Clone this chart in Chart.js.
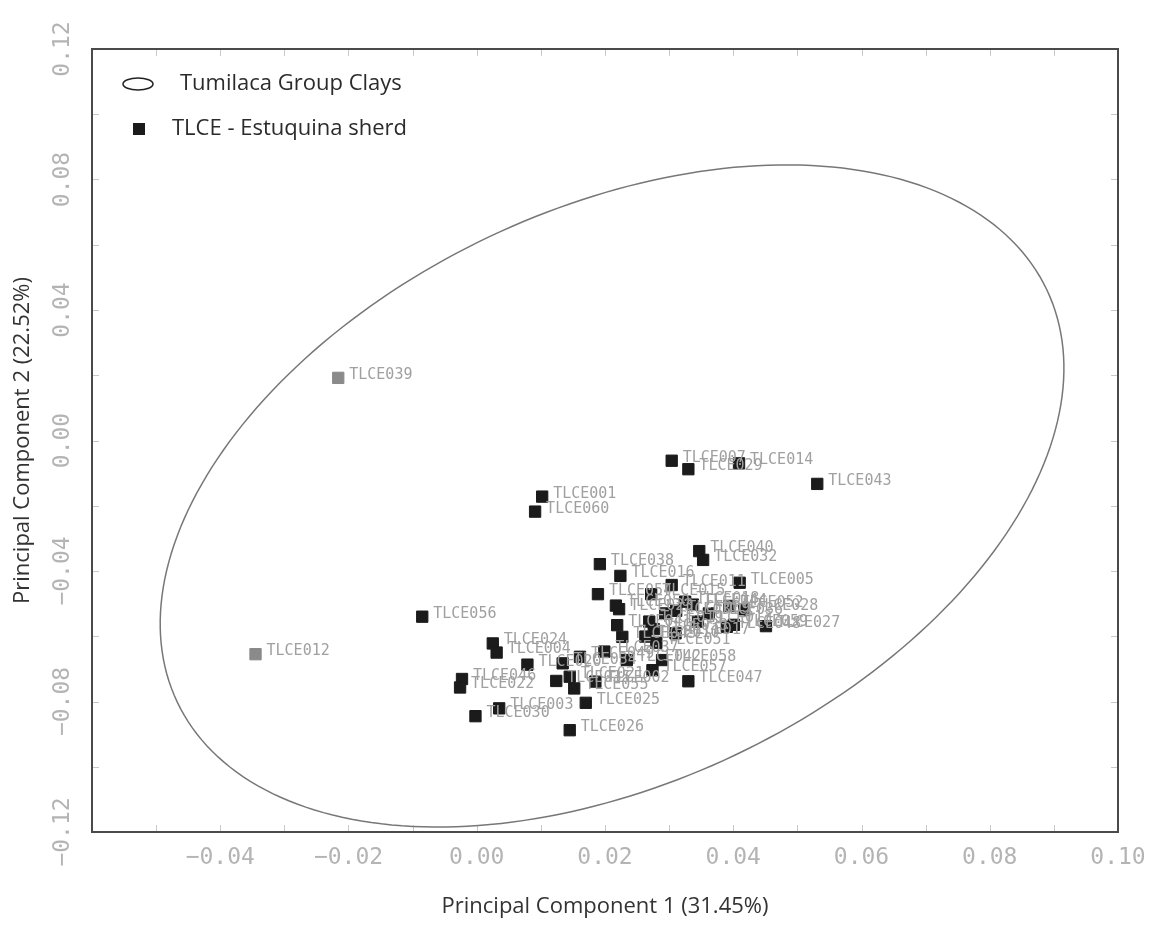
<!DOCTYPE html>
<html>
<head>
<meta charset="utf-8">
<title>PCA - Tumilaca clays vs Estuquina sherds</title>
<script src="https://cdn.jsdelivr.net/npm/chart.js@4.4.1/dist/chart.umd.min.js"></script>
<style>
    html, body { margin: 0; padding: 0; background: #fff; }
    #pca { display: block; }
</style>
</head>
<body>
<canvas id="pca" width="1150" height="930"></canvas>
<script>
/* DATA */
const sherdIds = [
    "TLCE007", "TLCE029", "TLCE014", "TLCE043", "TLCE001", "TLCE060", "TLCE040", "TLCE032",
    "TLCE038", "TLCE016", "TLCE011", "TLCE005", "TLCE054", "TLCE015", "TLCE050", "TLCE018",
    "TLCE044", "TLCE052", "TLCE028", "TLCE031", "TLCE009", "TLCE036", "TLCE056", "TLCE013",
    "TLCE048", "TLCE059", "TLCE027", "TLCE041", "TLCE019", "TLCE033", "TLCE045", "TLCE010",
    "TLCE051", "TLCE017", "TLCE024", "TLCE004", "TLCE049", "TLCE037", "TLCE042", "TLCE058",
    "TLCE020", "TLCE034", "TLCE057", "TLCE047", "TLCE046", "TLCE022", "TLCE035", "TLCE021",
    "TLCE055", "TLCE002", "TLCE025", "TLCE003", "TLCE030", "TLCE026", "TLCE023"
];
const sherdPC1 = [
    0.0304, 0.0330, 0.0409, 0.0531, 0.0102, 0.0091, 0.0347, 0.0353,
    0.0192, 0.0224, 0.0304, 0.0410, 0.0189, 0.0272, 0.0217, 0.0325,
    0.0337, 0.0394, 0.0417, 0.0294, 0.0311, 0.0362, -0.0085, 0.0345,
    0.0390, 0.0401, 0.0451, 0.0219, 0.0269, 0.0276, 0.0227, 0.0263,
    0.0280, 0.0310, 0.0025, 0.0031, 0.0161, 0.0199, 0.0234, 0.0289,
    0.0079, 0.0134, 0.0274, 0.0330, -0.0023, -0.0026, 0.0124, 0.0145,
    0.0152, 0.0185, 0.0170, 0.0035, -0.0002, 0.0145, 0.0222
];
const sherdPC2 = [
    -0.0062, -0.0088, -0.0070, -0.0133, -0.0172, -0.0218, -0.0339, -0.0366,
    -0.0379, -0.0415, -0.0443, -0.0436, -0.0471, -0.0471, -0.0506, -0.0494,
    -0.0503, -0.0507, -0.0518, -0.0530, -0.0522, -0.0530, -0.0540, -0.0555,
    -0.0571, -0.0565, -0.0569, -0.0566, -0.0555, -0.0578, -0.0602, -0.0601,
    -0.0620, -0.0591, -0.0622, -0.0650, -0.0663, -0.0647, -0.0673, -0.0673,
    -0.0687, -0.0683, -0.0704, -0.0738, -0.0731, -0.0757, -0.0737, -0.0724,
    -0.0760, -0.0739, -0.0804, -0.0821, -0.0845, -0.0888, -0.0517
];

// the two samples printed in grey
const greyIds = ["TLCE039", "TLCE012"];
const greyPC1 = [-0.0216, -0.0345];
const greyPC2 = [0.0192, -0.0655];

// Tumilaca Group clays ellipse: centre and two conjugate semi-axes (PC1, PC2)
const ellipseCenter = [0.0211, -0.0170];
const ellipseAxisA = [0.0678, 0.0632];
const ellipseAxisB = [0.0192, -0.0794];

const xTicks = [-0.06, 0.10, 0.02];   // min, max, step
const yTicks = [-0.12, 0.12, 0.04];

const xTitle = "Principal Component 1 (31.45%)";
const yTitle = "Principal Component 2 (22.52%)";
const legendItems = ["Tumilaca Group Clays", "TLCE - Estuquina sherd"];

/* HELPERS */
function toPoints(xs, ys) {
    return xs.map((x, i) => ({ x: x, y: ys[i] }));
}

function fmt(v) {
    const s = Math.abs(v) < 1e-9 ? "0.00" : v.toFixed(2);
    return s.replace("-", "\u2212");
}

const TICK_COLOR = "#b4b4b4";
const MONO = "'DejaVu Sans Mono', monospace";
const SANS = "'Open Sans', 'Noto Sans', sans-serif";

/* PLUGINS */
const framePlugin = {
    id: "frame",
    beforeDatasetsDraw(chart) {
        const { ctx, chartArea: a, scales: { x, y } } = chart;
        ctx.save();

        // small inner ticks
        ctx.strokeStyle = "#c8c8c8";
        ctx.lineWidth = 1;
        ctx.beginPath();
        for (let k = -6; k <= 10; k++) {
            const px = Math.round(x.getPixelForValue(k / 100)) + 0.5;
            ctx.moveTo(px, a.bottom); ctx.lineTo(px, a.bottom - 7);
            ctx.moveTo(px, a.top); ctx.lineTo(px, a.top + 7);
        }
        for (let k = -6; k <= 6; k++) {
            const py = Math.round(y.getPixelForValue(k / 50)) + 0.5;
            ctx.moveTo(a.left, py); ctx.lineTo(a.left + 7, py);
            ctx.moveTo(a.right, py); ctx.lineTo(a.right - 7, py);
        }
        ctx.stroke();

        // ellipse
        ctx.strokeStyle = "#777";
        ctx.lineWidth = 1.5;
        ctx.beginPath();
        for (let i = 0; i <= 240; i++) {
            const t = i / 240 * Math.PI * 2;
            const vx = ellipseCenter[0] + ellipseAxisA[0] * Math.cos(t) + ellipseAxisB[0] * Math.sin(t);
            const vy = ellipseCenter[1] + ellipseAxisA[1] * Math.cos(t) + ellipseAxisB[1] * Math.sin(t);
            const px = x.getPixelForValue(vx);
            const py = y.getPixelForValue(vy);
            if (i === 0) ctx.moveTo(px, py); else ctx.lineTo(px, py);
        }
        ctx.closePath();
        ctx.stroke();

        // frame
        ctx.strokeStyle = "#4a4a4a";
        ctx.lineWidth = 2;
        ctx.strokeRect(a.left, a.top, a.right - a.left, a.bottom - a.top);
        ctx.restore();
    }
};

const labelPlugin = {
    id: "pointLabels",
    afterDatasetsDraw(chart) {
        const { ctx } = chart;
        ctx.save();
        ctx.font = "15px " + MONO;
        ctx.fillStyle = "#a0a0a0";
        ctx.textBaseline = "middle";
        ctx.textAlign = "left";
        chart.data.datasets.forEach((ds, di) => {
            const meta = chart.getDatasetMeta(di);
            meta.data.forEach((pt, i) => {
                ctx.fillText(ds.ids[i], pt.x + 11, pt.y - 3);
            });
        });
        ctx.restore();
    }
};

const legendPlugin = {
    id: "insideLegend",
    afterDraw(chart) {
        const { ctx, chartArea: a } = chart;
        const ix = a.left + 46;
        const y1 = a.top + 35;
        const y2 = a.top + 80;
        ctx.save();
        ctx.strokeStyle = "#222";
        ctx.lineWidth = 1.5;
        ctx.beginPath();
        ctx.ellipse(ix, y1, 15, 6, 0, 0, Math.PI * 2);
        ctx.stroke();
        ctx.fillStyle = "#1b1b1b";
        ctx.fillRect(ix - 5, y2 - 6, 12, 12);

        ctx.font = "22px " + SANS;
        ctx.fillStyle = "#2b2b2b";
        ctx.textBaseline = "middle";
        ctx.fillText(legendItems[0], a.left + 88, y1);
        ctx.fillText(legendItems[1], a.left + 80, y2);
        ctx.restore();
    }
};

/* CHART */
new Chart(document.getElementById("pca"), {
    type: "scatter",
    data: {
        datasets: [{
            label: legendItems[1],
            ids: sherdIds,
            data: toPoints(sherdPC1, sherdPC2),
            pointStyle: "rect",
            pointRadius: 8,
            backgroundColor: "#1b1b1b",
            borderColor: "#1b1b1b",
            borderWidth: 1
        }, {
            label: "grey",
            ids: greyIds,
            data: toPoints(greyPC1, greyPC2),
            pointStyle: "rect",
            pointRadius: 8,
            backgroundColor: "#8a8a8a",
            borderColor: "#8a8a8a",
            borderWidth: 1
        }]
    },
    options: {
        responsive: false,
        animation: false,
        events: [],
        layout: { padding: { top: 49, right: 32, left: 0, bottom: 0 } },
        scales: {
            x: {
                type: "linear",
                min: xTicks[0],
                max: xTicks[1],
                afterFit(s) {
                    s.height = 98;
                    s.paddingLeft = 0;
                    s.paddingRight = 0;
                },
                grid: { display: false, drawTicks: false },
                border: { display: false },
                ticks: {
                    stepSize: xTicks[2],
                    padding: 12,
                    color: TICK_COLOR,
                    font: { family: MONO, size: 23 },
                    maxRotation: 0,
                    autoSkip: false,
                    callback: (v) => v < -0.055 ? "" : fmt(v)
                },
                title: {
                    display: true,
                    text: xTitle,
                    color: "#333",
                    font: { family: SANS, size: 22 },
                    padding: { top: 0, bottom: 10 }
                }
            },
            y: {
                type: "linear",
                min: yTicks[0],
                max: yTicks[1],
                afterFit(s) {
                    s.width = 92;
                    s.paddingTop = 0;
                    s.paddingBottom = 0;
                },
                grid: { display: false, drawTicks: false },
                border: { display: false },
                ticks: {
                    stepSize: yTicks[2],
                    padding: -6,
                    color: TICK_COLOR,
                    font: { family: MONO, size: 23 },
                    minRotation: 90,
                    maxRotation: 90,
                    crossAlign: "center",
                    autoSkip: false,
                    callback: (v) => fmt(v)
                },
                title: {
                    display: true,
                    text: yTitle,
                    color: "#333",
                    font: { family: SANS, size: 22 },
                    padding: { top: 10, bottom: 0 }
                }
            }
        },
        plugins: {
            legend: { display: false },
            tooltip: { enabled: false }
        }
    },
    plugins: [framePlugin, labelPlugin, legendPlugin]
});
</script>
</body>
</html>
